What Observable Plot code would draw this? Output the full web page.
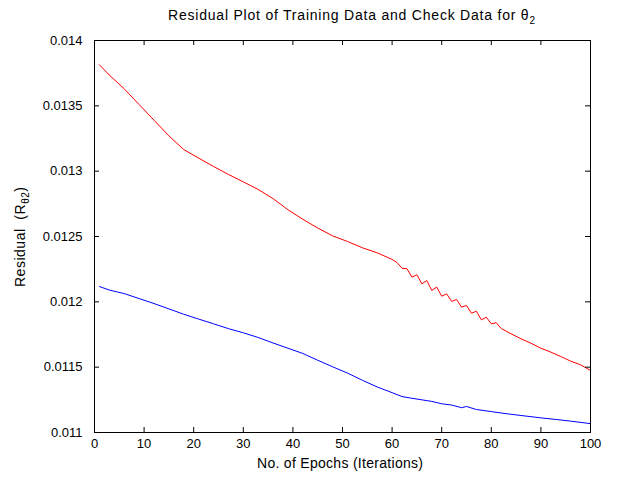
<!DOCTYPE html>
<html>
<head>
<meta charset="utf-8">
<script src="https://cdn.jsdelivr.net/npm/d3@7"></script>
<script src="https://cdn.jsdelivr.net/npm/@observablehq/plot@0.6"></script>
<style>
  html, body { margin: 0; padding: 0; background: #fff; }
  #chart { width: 618px; height: 479px; }
</style>
</head>
<body>
<div id="chart"></div>
<script>
// Check data residual (red)
const checkEpochs = [1, 3, 6, 9, 12, 15, 18, 21, 24, 27, 30, 33, 36, 39, 42, 45, 48, 51, 54, 57, 60, 61, 62, 63, 64, 65, 66, 67, 68, 69, 70, 71, 72, 73, 74, 75, 76, 77, 78, 79, 80, 81, 82, 84, 86, 88, 90, 92, 94, 96, 98, 100];
const checkResidual = [0.013814, 0.013735, 0.013630, 0.013510, 0.013390, 0.013270, 0.013165, 0.013100, 0.013036, 0.012975, 0.012918, 0.012860, 0.012790, 0.012705, 0.012632, 0.012565, 0.012505, 0.012462, 0.012414, 0.012375, 0.012325, 0.012300, 0.012257, 0.012253, 0.012189, 0.012207, 0.012138, 0.012163, 0.012087, 0.012113, 0.012043, 0.012061, 0.012003, 0.012018, 0.011959, 0.011972, 0.011913, 0.011928, 0.011862, 0.011882, 0.011832, 0.011840, 0.011796, 0.011755, 0.011717, 0.011683, 0.011645, 0.011615, 0.011582, 0.011546, 0.011518, 0.011475];

// Training data residual (blue)
const trainEpochs = [1, 3, 6, 9, 12, 15, 18, 21, 24, 27, 30, 33, 36, 39, 42, 45, 48, 51, 54, 57, 60, 62, 64, 66, 68, 70, 72, 74, 75, 77, 80, 83, 86, 90, 93, 96, 100];
const trainResidual = [0.012117, 0.012090, 0.012063, 0.012025, 0.011987, 0.011946, 0.011905, 0.011868, 0.011832, 0.011795, 0.011763, 0.011727, 0.011685, 0.011645, 0.011605, 0.011553, 0.011503, 0.011455, 0.011400, 0.011348, 0.011305, 0.011275, 0.011262, 0.011250, 0.011238, 0.011220, 0.011210, 0.011190, 0.011199, 0.011176, 0.011160, 0.011144, 0.011130, 0.011112, 0.011100, 0.011087, 0.011068];

const xTicks = [0, 10, 20, 30, 40, 50, 60, 70, 80, 90, 100];
const yTicks = [0.011, 0.0115, 0.012, 0.0125, 0.013, 0.0135, 0.014];
const yTickLabels = ["0.011", "0.0115", "0.012", "0.0125", "0.013", "0.0135", "0.014"];

const titleText = "Residual Plot of Training Data and Check Data for θ";
const titleSub = "2";
const xLabel = "No. of Epochs (Iterations)";
const yLabelMain = "Residual  (R";
const yLabelSub = "θ2";
const yLabelEnd = ")";

const checkData = checkEpochs.map((e, i) => ({epoch: e, r: checkResidual[i]}));
const trainData = trainEpochs.map((e, i) => ({epoch: e, r: trainResidual[i]}));

const W = 618, H = 479, ML = 94, MR = 28, MT = 40, MB = 47;
const innerW = W - ML - MR, innerH = H - MT - MB;
const tick = 5;

const chart = Plot.plot({
  width: W, height: H,
  marginLeft: ML, marginRight: MR, marginTop: MT, marginBottom: MB,
  style: {fontFamily: "'Liberation Sans', Arial, sans-serif", fontSize: "13px", background: "#fff", color: "#000"},
  x: {domain: [0, 100]},
  y: {domain: [0.011, 0.014]},
  marks: [
    Plot.line(trainData, {x: "epoch", y: "r", stroke: "#0000ff", strokeWidth: 1}),
    Plot.line(checkData, {x: "epoch", y: "r", stroke: "#ff0000", strokeWidth: 1}),
    Plot.tickX(xTicks, {x: d => d, stroke: "#000", insetTop: innerH - tick}),
    Plot.tickX(xTicks, {x: d => d, stroke: "#000", insetBottom: innerH - tick}),
    Plot.tickY(yTicks, {y: d => d, stroke: "#000", insetRight: innerW - tick}),
    Plot.tickY(yTicks, {y: d => d, stroke: "#000", insetLeft: innerW - tick}),
    Plot.axisX(xTicks, {anchor: "bottom", tickSize: 0, tickPadding: 6, tickFormat: d => String(d), label: null}),
    Plot.axisY(yTicks, {anchor: "left", tickSize: 0, tickPadding: 12, tickFormat: d => yTickLabels[yTicks.indexOf(d)], label: null}),
    Plot.frame({stroke: "#000", strokeWidth: 1})
  ]
});

document.getElementById("chart").appendChild(chart);

const svg = d3.select(chart);
const font = "'Liberation Sans', Arial, sans-serif";

const t = svg.append("text")
  .attr("x", 168).attr("y", 20)
  .attr("text-anchor", "start")
  .attr("textLength", 367).attr("lengthAdjust", "spacing")
  .attr("font-family", font).attr("font-size", 14).attr("fill", "#000");
t.append("tspan").text(titleText);
t.append("tspan").attr("dy", 4).attr("font-size", 10).text(titleSub);

svg.append("text")
  .attr("x", 257).attr("y", 468)
  .attr("text-anchor", "start")
  .attr("textLength", 166).attr("lengthAdjust", "spacing")
  .attr("font-family", font).attr("font-size", 14).attr("fill", "#000")
  .text(xLabel);

const yl = svg.append("text")
  .attr("transform", `translate(25,287) rotate(-90)`)
  .attr("text-anchor", "start")
  .attr("textLength", 100).attr("lengthAdjust", "spacing")
  .attr("font-family", font).attr("font-size", 14).attr("fill", "#000");
yl.append("tspan").text(yLabelMain);
yl.append("tspan").attr("dy", 4).attr("font-size", 10).text(yLabelSub);
yl.append("tspan").attr("dy", -4).text(yLabelEnd);
</script>
</body>
</html>
